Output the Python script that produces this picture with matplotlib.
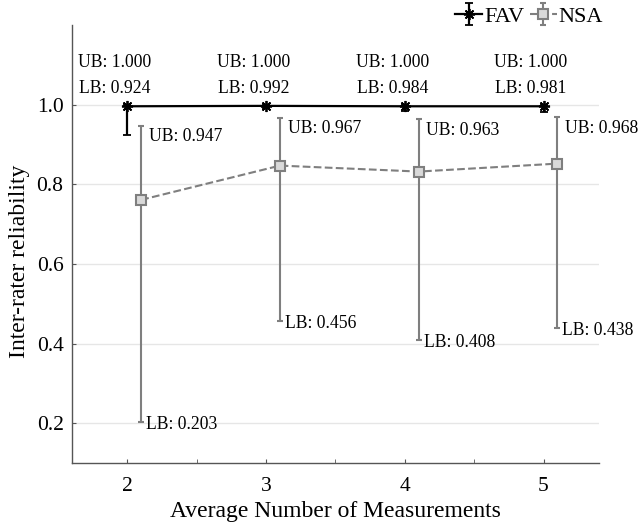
import matplotlib
matplotlib.use("Agg")
import matplotlib.pyplot as plt
from matplotlib.ticker import MultipleLocator

plt.rcParams['font.family'] = ['Liberation Serif', 'DejaVu Serif']

measurements = [2, 3, 4, 5]
fav_mean = [0.996, 0.997, 0.996, 0.996]
fav_ub = [1.000, 1.000, 1.000, 1.000]
fav_lb = [0.924, 0.992, 0.984, 0.981]
nsa_mean = [0.761, 0.847, 0.832, 0.852]
nsa_ub = [0.947, 0.967, 0.963, 0.968]
nsa_lb = [0.203, 0.456, 0.408, 0.438]
nsa_offset = 0.1

fig = plt.figure(figsize=(6.42, 5.22), dpi=100)
ax = fig.add_axes([0.112, 0.113, 0.821, 0.839])

gray = '#7f7f7f'
fav_err = [[m - l for m, l in zip(fav_mean, fav_lb)], [u - m for m, u in zip(fav_mean, fav_ub)]]
nsa_x = [x + nsa_offset for x in measurements]
nsa_err = [[m - l for m, l in zip(nsa_mean, nsa_lb)], [u - m for m, u in zip(nsa_mean, nsa_ub)]]

ax.errorbar(nsa_x, nsa_mean, yerr=nsa_err, color=gray, ls='--', lw=1.5,
            marker='s', ms=7, mfc='#d9d9d9', mec=gray, mew=1.5,
            capsize=2.5, elinewidth=1.5, label='NSA', zorder=3)
ax.errorbar(measurements, fav_mean, yerr=fav_err, color='black', ls='-', lw=1.6,
            marker=(8, 2, 0), ms=8, mew=1.3,
            capsize=3, elinewidth=1.6, label='FAV', zorder=4)

for x, u, l in zip(measurements, fav_ub, fav_lb):
    ax.text(x - 0.09, 1.074, f"UB: {u:.3f}\nLB: {l:.3f}", ha='center', va='center',
            fontsize=12.7, linespacing=1.7)
for x, u, l in zip(nsa_x, nsa_ub, nsa_lb):
    ax.text(x + 0.055, u - 0.006, f"UB: {u:.3f}", ha='left', va='top', fontsize=12.7)
    ax.text(x + 0.035, l - 0.006, f"LB: {l:.3f}", ha='left', va='center', fontsize=12.7)

ax.set_xlim(1.6, 5.4)
ax.set_ylim(0.1, 1.2)
ax.set_xticks(measurements)
ax.xaxis.set_minor_locator(MultipleLocator(0.5))
ax.set_yticks([0.2, 0.4, 0.6, 0.8, 1.0])
ax.set_yticklabels(['0.2', '0.4', '0.6', '0.8', '1.0'])
ax.tick_params(direction='in', labelsize=15.5, color='#555555', length=3, pad=10)
ax.tick_params(axis='x', which='minor', direction='in', length=3, color='#555555')
ax.tick_params(axis='y', pad=6)
ax.grid(axis='y', color='#e6e6e6', lw=1)
ax.set_axisbelow(True)
for s in ['top', 'right']:
    ax.spines[s].set_visible(False)
for s in ['left', 'bottom']:
    ax.spines[s].set_color('#555555')
    ax.spines[s].set_linewidth(1)

ax.set_xlabel('Average Number of Measurements', fontsize=17, labelpad=4)
ax.set_ylabel('Inter-rater reliability', fontsize=17)
ax.yaxis.set_label_coords(-0.080, 0.461)

h, lab = ax.get_legend_handles_labels()
ax.legend([h[1], h[0]], [lab[1], lab[0]], ncol=2, frameon=False, fontsize=16,
          loc='lower right', bbox_to_anchor=(1.025, 0.975), handlelength=1.2,
          handletextpad=0.1, columnspacing=0.25, borderaxespad=0)

fig.savefig('out.png', dpi=100)
